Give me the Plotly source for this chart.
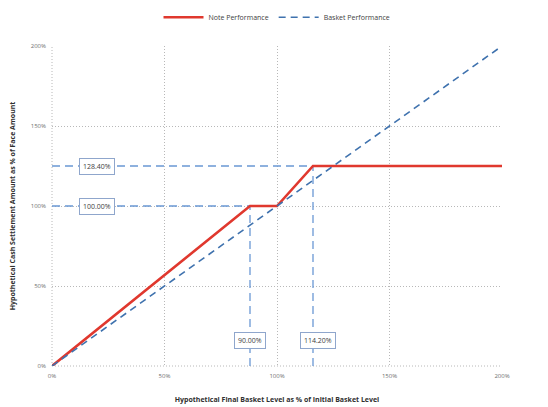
import plotly.graph_objects as go

# Data
note_x = [0, 88, 100, 116, 200]
note_y = [0, 100, 100, 125, 125]
basket_x = [0, 200]
basket_y = [0, 200]

h_ref_y = [100, 125]       # horizontal reference levels
h_ref_xend = [88, 116]     # where they meet the note line
h_labels = ["100.00%", "128.40%"]

v_ref_x = [88, 116]
v_ref_yend = [100, 125]
v_labels = ["90.00%", "114.20%"]

tick_vals = [0, 50, 100, 150, 200]
tick_text = ["0%", "50%", "100%", "150%", "200%"]

RED = "#e0382e"
BLUE = "#3f72ae"
REF = "#6a98d4"
GRID = "#b8b8b8"
FONT = "Open Sans"

fig = go.Figure()

for y, xe in zip(h_ref_y, h_ref_xend):
    fig.add_trace(go.Scatter(x=[0, xe], y=[y, y], mode="lines", showlegend=False,
                             line=dict(color=REF, width=1.3, dash="8px,5px"), hoverinfo="skip"))
for x, ye in zip(v_ref_x, v_ref_yend):
    fig.add_trace(go.Scatter(x=[x, x], y=[0, ye], mode="lines", showlegend=False,
                             line=dict(color=REF, width=1.3, dash="8px,5px"), hoverinfo="skip"))

fig.add_trace(go.Scatter(x=note_x, y=note_y, mode="lines", name="Note Performance",
                         line=dict(color=RED, width=2.6)))
fig.add_trace(go.Scatter(x=basket_x, y=basket_y, mode="lines", name="Basket Performance",
                         line=dict(color=BLUE, width=1.6, dash="7px,5px")))

ann = []
for y, t in zip(h_ref_y, h_labels):
    ann.append(dict(x=20, y=y, xref="x", yref="y", text=t, showarrow=False,
                    font=dict(family=FONT, size=7, color="#404040"),
                    bgcolor="white", bordercolor="#8fa6cc", borderwidth=1, borderpad=3))
for x, t in zip(v_ref_x, v_labels):
    ann.append(dict(x=x + (0 if t == "90.00%" else 2), y=16, xref="x", yref="y", text=t,
                    showarrow=False, font=dict(family=FONT, size=7, color="#404040"),
                    bgcolor="white", bordercolor="#8fa6cc", borderwidth=1, borderpad=3))

axis_common = dict(range=[0, 200], tickmode="array", tickvals=tick_vals, ticktext=tick_text,
                   showgrid=True, gridcolor=GRID, griddash="1px,2px", gridwidth=1,
                   zeroline=False, showline=False, ticks="", automargin=False,
                   tickfont=dict(family=FONT, size=6, color="#707070"))

shapes = [
    dict(type="line", xref="paper", yref="paper", x0=0, x1=0, y0=0, y1=1,
         line=dict(color=GRID, width=1, dash="1px,2px"), layer="below"),
    dict(type="line", xref="paper", yref="paper", x0=0, x1=1, y0=0, y1=0,
         line=dict(color=GRID, width=1, dash="1px,2px"), layer="below"),
]

fig.update_layout(
    width=548, height=407,
    margin=dict(l=44, r=54, t=38, b=49, autoexpand=False),
    paper_bgcolor="white", plot_bgcolor="white",
    font=dict(family=FONT, size=7, color="#303030"),
    legend=dict(orientation="h", x=0.5, xanchor="center", y=1.09, yanchor="middle",
                font=dict(family=FONT, size=7, color="#404040"), itemwidth=40),
    annotations=ann,
    shapes=shapes,
    xaxis=dict(**axis_common, ticklabelstandoff=5,
               title=dict(text="<b>Hypothetical Final Basket Level as % of Initial Basket Level</b>",
                          font=dict(family=FONT, size=7, color="#303030"), standoff=18)),
    yaxis=dict(**axis_common, ticklabelstandoff=5,
               title=dict(text="<b>Hypothetical Cash Settlement Amount as % of Face Amount</b>",
                          font=dict(family=FONT, size=7, color="#303030"), standoff=18)),
)

fig.write_html("out.html")
